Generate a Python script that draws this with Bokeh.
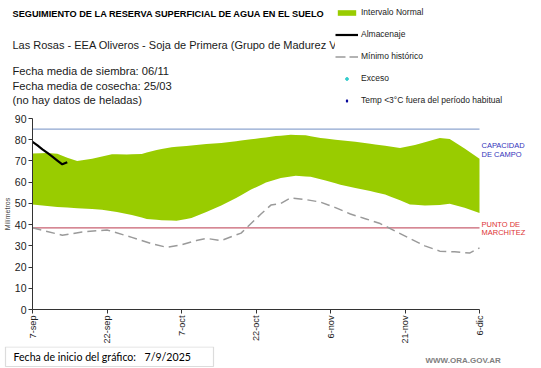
import math
from bokeh.plotting import figure
from bokeh.layouts import column
from bokeh.models import (ColumnDataSource, Label, Legend, LegendItem,
                          FixedTicker, Range1d, BoxAnnotation)
from bokeh.core.properties import value
from bokeh.embed import file_html
from bokeh.resources import INLINE

# ---------------- data ----------------
tick_days = [0, 15, 30, 45, 60, 75, 90]
tick_labels = ["7-sep", "22-sep", "7-oct", "22-oct", "6-nov", "21-nov", "6-dic"]

upper_days = [0, 3, 5, 7, 9, 12, 16, 19, 22, 25, 28, 31, 35, 38, 42, 46, 49, 52,
              55, 58, 61, 65, 69, 72, 74, 77, 79, 82, 84, 87, 90]
upper_vals = [73.5, 73.8, 73.4, 71.5, 70.0, 71.0, 73.2, 73.0, 73.3, 75.2, 76.5,
              77.0, 78.0, 78.5, 79.6, 80.8, 81.7, 82.3, 82.1, 80.8, 80.0, 79.0,
              77.8, 76.8, 76.1, 77.5, 78.8, 80.8, 80.3, 75.9, 71.0]
lower_days = [0, 5, 10, 14, 17, 20, 23, 26, 29, 32, 35, 38, 41, 44, 47, 50, 53,
              56, 59, 62, 65, 68, 71, 74, 76, 79, 82, 84, 87, 90]
lower_vals = [49.5, 48.3, 47.6, 47.0, 46.0, 44.5, 42.7, 42.1, 41.8, 43.1, 46.0,
              49.0, 52.5, 56.5, 59.8, 62.0, 63.0, 62.5, 60.8, 58.8, 57.3, 55.8,
              54.2, 51.5, 49.5, 49.0, 49.2, 49.8, 48.0, 45.5]
min_days = [0, 6, 10, 15, 20, 24, 27, 30, 33, 35, 38, 42, 44, 46, 48, 50, 52, 55,
            58, 61, 64, 67, 70, 73, 76, 79, 82, 85, 88, 90]
min_vals = [38.5, 35.0, 36.5, 37.5, 34.0, 31.0, 29.3, 30.5, 32.5, 33.5, 32.5,
            36.0, 40.5, 45.0, 49.2, 50.0, 52.6, 51.8, 50.6, 48.0, 45.0, 42.8,
            40.5, 37.0, 33.4, 30.0, 27.5, 27.2, 26.6, 29.0]
alm_days = [0, 1, 2, 3, 4, 5, 6, 7]
alm_vals = [79.0, 77.3, 75.5, 73.8, 72.0, 70.2, 68.4, 69.4]
exceso_days = []      # no excess events in the period
exceso_vals = []
helada_days = []      # no out-of-season frost events
helada_vals = []
capacidad_campo = 85
punto_marchitez = 38.5

title_text = "SEGUIMIENTO DE LA RESERVA SUPERFICIAL DE AGUA EN EL SUELO"
station_text = "Las Rosas - EEA Oliveros - Soja de Primera (Grupo de Madurez V"
info_lines = ["Fecha media de siembra: 06/11", "Fecha media de cosecha: 25/03",
              "(no hay  datos de heladas)"]
legend_labels = ["Intervalo Normal", "Almacenaje", "Mínimo histórico", "Exceso",
                 "Temp <3°C fuera del período habitual"]
start_label = "Fecha de inicio del gráfico:"
start_date = "7/9/2025"
site = "WWW.ORA.GOV.AR"


def interp(xs, ys, x):
    for i in range(len(xs) - 1):
        if xs[i] <= x <= xs[i + 1]:
            t = (x - xs[i]) / (xs[i + 1] - xs[i])
            return ys[i] + t * (ys[i + 1] - ys[i])
    return ys[-1]


band_days = sorted(set(upper_days) | set(lower_days))
band_src = ColumnDataSource(dict(
    x=band_days,
    y1=[interp(lower_days, lower_vals, d) for d in band_days],
    y2=[interp(upper_days, upper_vals, d) for d in band_days]))

F = "Liberation Sans"
GREEN = "#99cc00"
W = 541
NAN = [float("nan")]

# ---------------- header ----------------
HH = 112
h = figure(width=W, height=HH, output_backend="svg", toolbar_location=None,
           x_range=Range1d(0, W), y_range=Range1d(HH, 0),
           x_axis_type=None, y_axis_type=None, min_border=0, frame_align=False)
h.outline_line_color = None
h.grid.grid_line_color = None


def htext(fig, txt, x, y, size, color="#1a1a1a", style="normal", font=F):
    fig.text(x=[x], y=[y], text=[txt], text_font=value(font),
             text_font_size=size, text_color=color, text_font_style=style,
             text_baseline="middle", text_align="left")


htext(h, title_text, 12, 13, "9.2px", color="black", style="bold")
htext(h, station_text, 12, 44, "11px")
for txt, yy in zip(info_lines, [70, 85, 99]):
    htext(h, txt, 12, yy, "11.2px")

# legend-only renderers in the header (single NaN row: nothing drawn in frame)
d_band = h.varea(x=NAN, y1=NAN, y2=NAN, fill_color=GREEN)
d_alm = h.line(x=NAN, y=NAN, line_color="black", line_width=2.2)
d_min = h.line(x=NAN, y=NAN, line_color="#9a9a9a", line_width=1.5,
               line_dash="10 4")
d_exc = h.scatter(x=exceso_days or NAN, y=exceso_vals or NAN, marker="circle",
                  color="#33cccc")
d_tmp = h.scatter(x=helada_days or NAN, y=helada_vals or NAN, marker="diamond",
                  color="#000099")
legend = Legend(items=[LegendItem(label=l, renderers=[r]) for l, r in
                       zip(legend_labels, [d_band, d_alm, d_min, d_exc, d_tmp])],
                location=(335, 6), glyph_width=23, glyph_height=7,
                label_height=12, spacing=10, padding=0, margin=0,
                border_line_color=None, background_fill_color="white",
                background_fill_alpha=1.0, label_text_font=F,
                label_text_font_size="8.5px", label_standoff=3,
                label_text_color="#222222")
h.add_layout(legend)

# ---------------- main chart ----------------
MH = 234
left_border = 32
px_per_day = 447 / 90
x_end = (W - left_border) / px_per_day

p = figure(width=W, height=MH, output_backend="svg", toolbar_location=None,
           x_range=Range1d(0, x_end), y_range=Range1d(0, 90),
           min_border_left=left_border, min_border_right=0, min_border_top=6,
           min_border_bottom=35, frame_align=False)
p.outline_line_color = None
p.grid.grid_line_color = None

p.varea(x="x", y1="y1", y2="y2", source=band_src, fill_color=GREEN)
p.line([tick_days[0], tick_days[-1]], [capacidad_campo] * 2,
       line_color="#8ea5cf", line_width=1.2)
p.line([tick_days[0], tick_days[-1]], [punto_marchitez] * 2,
       line_color="#c86070", line_width=1.2)
p.line(min_days, min_vals, line_color="#9a9a9a", line_width=1.5,
       line_dash="9 5")
p.line(alm_days, alm_vals, line_color="black", line_width=2.2)

p.xaxis.ticker = FixedTicker(ticks=tick_days)
p.xaxis.major_label_overrides = {d: l for d, l in zip(tick_days, tick_labels)}
p.xaxis.major_label_orientation = math.pi / 2
p.xaxis.bounds = (tick_days[0], tick_days[-1])
p.yaxis.ticker = FixedTicker(ticks=list(range(0, 91, 10)))
for ax in (p.xaxis, p.yaxis):
    ax.minor_tick_line_color = None
    ax.major_tick_out = 4
    ax.major_tick_in = 0
    ax.major_label_standoff = 2
    ax.axis_line_color = "#333333"
    ax.major_tick_line_color = "#333333"
    ax.major_label_text_font = F
    ax.major_label_text_color = "#222222"
p.yaxis.major_label_text_font_size = "10.5px"
p.xaxis.major_label_text_font_size = "9.2px"
p.yaxis.axis_label = "Milímetros"
p.yaxis.axis_label_text_font = F
p.yaxis.axis_label_text_font_size = "7px"
p.yaxis.axis_label_text_font_style = "normal"
p.yaxis.axis_label_standoff = 1


def dlabel(txt, x, y, color):
    p.add_layout(Label(x=x, y=y, text=txt, text_font=F, text_font_size="7.5px",
                       text_color=color, text_baseline="middle",
                       text_align="left"))


lx = tick_days[-1] + 0.4
dlabel("CAPACIDAD", lx, 77.3, "#3333bb")
dlabel("DE  CAMPO", lx, 73.1, "#3333bb")
dlabel("PUNTO  DE", lx, 40.0, "#dd3333")
dlabel("MARCHITEZ", lx, 36.2, "#dd3333")

# ---------------- footer ----------------
FH = 22
f = figure(width=W, height=FH, output_backend="svg", toolbar_location=None,
           x_range=Range1d(0, W), y_range=Range1d(FH, 0),
           x_axis_type=None, y_axis_type=None, min_border=0, frame_align=False)
f.outline_line_color = None
f.grid.grid_line_color = None
f.add_layout(BoxAnnotation(left=5, right=213, top=0.5, bottom=20,
                           fill_alpha=0, line_color="#8a8a8a", line_width=1.2))
htext(f, start_label, 13, 10, "10.6px", color="black", font="Lato")
htext(f, start_date, 144, 10, "10.6px", color="black", font="Lato")
htext(f, site, 425, 14, "8px", color="#808080", style="bold")

layout = column(h, p, f, spacing=0)
open("out.html", "w").write(file_html(layout, INLINE))
